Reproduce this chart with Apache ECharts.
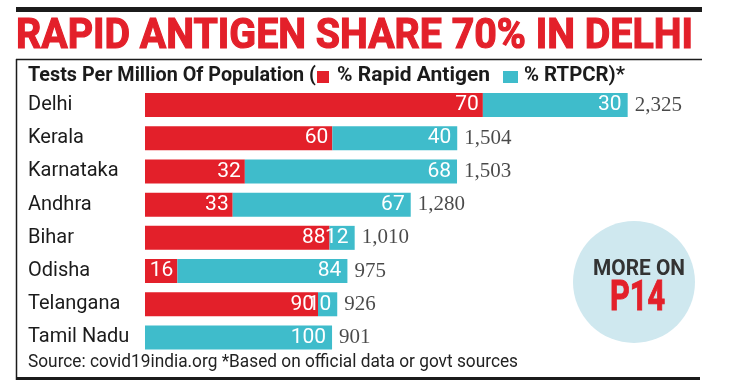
<!DOCTYPE html>
<html>
<head>
<meta charset="utf-8">
<script src="https://cdn.jsdelivr.net/npm/echarts@6/dist/echarts.min.js"></script>
<style>
html,body{margin:0;padding:0;background:#fff;}
#main{width:736px;height:390px;}
</style>
</head>
<body>
<div id="main"></div>
<script>
// ---- data ----
const states = ['Delhi', 'Kerala', 'Karnataka', 'Andhra', 'Bihar', 'Odisha', 'Telangana', 'Tamil Nadu'];
const testsPerMillion = [2325, 1504, 1503, 1280, 1010, 975, 926, 901];
const rapidAntigenPct = [70, 60, 32, 33, 88, 16, 90, 0];
const rtpcrPct = [30, 40, 68, 67, 12, 84, 10, 100];

const titleText = 'RAPID ANTIGEN SHARE 70% IN DELHI';
const subtitleText = 'Tests Per Million Of Population (';
const legendRapid = '% Rapid Antigen';
const legendRtpcr = '% RTPCR)*';
const sourceText = 'Source: covid19india.org *Based on official data or govt sources';

// ---- style ----
const RED = '#e3202a';
const CYAN = '#3fbccb';
const INK = '#1b1b1b';
const SANS = "Roboto, 'Liberation Sans', sans-serif";

const cv = document.createElement('canvas').getContext('2d');
function measure(text, font) { cv.font = font; return cv.measureText(text).width; }
function fitText(text, x, y, size, weight, family, fill, width, extra) {
  const w = measure(text, weight + ' ' + size + 'px ' + family);
  const style = Object.assign({ text: text, fontSize: size, fontWeight: weight, fontFamily: family, fill: fill,
             align: 'left', verticalAlign: 'middle' }, extra || {});
  return { type: 'text', x: x, y: y, scaleX: width / w, silent: true, style: style };
}

const chart = echarts.init(document.getElementById('main'), null, { renderer: 'canvas' });

const graphics = [
  { type: 'rect', shape: { x: 16, y: 7, width: 686, height: 5 }, style: { fill: INK }, silent: true },
  fitText(titleText, 16, 37, 43, 'bold', 'Roboto', RED, 677, { stroke: RED, lineWidth: 1.2 }),
  { type: 'line', shape: { x1: 16, y1: 59.5, x2: 702, y2: 59.5 }, style: { stroke: INK, lineWidth: 1.5 }, silent: true },
  { type: 'line', shape: { x1: 16.5, y1: 59, x2: 16.5, y2: 380 }, style: { stroke: INK, lineWidth: 1.5 }, silent: true },
  { type: 'rect', shape: { x: 16, y: 377, width: 684, height: 3 }, style: { fill: INK }, silent: true },
  fitText(subtitleText, 28, 76, 20, 'bold', 'Roboto', INK, 288),
  { type: 'rect', shape: { x: 317, y: 71, width: 12, height: 12 }, style: { fill: RED }, silent: true },
  fitText(legendRapid, 337, 76, 20, 'bold', 'Roboto', INK, 153),
  { type: 'rect', shape: { x: 503, y: 71, width: 15, height: 12 }, style: { fill: CYAN }, silent: true },
  fitText(legendRtpcr, 524, 76, 20, 'bold', 'Roboto', INK, 101),
  fitText(sourceText, 28, 362, 19, 'normal', 'Roboto', '#222', 490),
  { type: 'circle', shape: { cx: 634, cy: 282, r: 61 }, style: { fill: '#cfe8ef' }, silent: true },
  fitText('MORE ON', 593, 269, 22, 'bold', 'Roboto', '#333', 92),
  fitText('P14', 610, 299, 42, 'bold', 'Roboto', RED, 55, { stroke: RED, lineWidth: 1 })
];

const option = {
  animation: false,
  backgroundColor: '#fff',
  grid: { left: 145, right: 72, top: 88.4, bottom: 35.9, containLabel: false },
  xAxis: { type: 'value', min: 0, max: 2500, show: false, splitLine: { show: false } },
  yAxis: {
    type: 'category', data: states, inverse: true,
    axisLine: { show: false }, axisTick: { show: false },
    axisLabel: { align: 'left', margin: 117, fontSize: 20, fontFamily: SANS, color: INK, padding: [0, 0, 4, 0] }
  },
  series: [
    {
      name: legendRapid, type: 'bar', stack: 'total', barWidth: 24,
      data: testsPerMillion.map((t, i) => t * rapidAntigenPct[i] / 100),
      itemStyle: { color: RED },
      label: { show: true, position: 'insideRight', distance: 4, color: '#fff', fontSize: 21, fontFamily: SANS,
               formatter: p => rapidAntigenPct[p.dataIndex] ? String(rapidAntigenPct[p.dataIndex]) : '' }
    },
    {
      name: '% RTPCR', type: 'bar', stack: 'total', barWidth: 24,
      data: testsPerMillion.map((t, i) => t * rtpcrPct[i] / 100),
      itemStyle: { color: CYAN },
      label: { show: true, position: 'insideRight', distance: 6, color: '#fff', fontSize: 21, fontFamily: SANS,
               formatter: p => rtpcrPct[p.dataIndex] ? String(rtpcrPct[p.dataIndex]) : '' }
    },
    {
      name: 'total', type: 'scatter', symbolSize: 0, silent: true,
      data: testsPerMillion.map((t, i) => [t, i]),
      label: { show: true, position: 'right', distance: 7, color: INK, fontSize: 21, fontFamily: "'Liberation Serif', 'DejaVu Serif', serif",
               formatter: p => testsPerMillion[p.dataIndex].toLocaleString('en-US') }
    }
  ],
  graphic: graphics
};
chart.setOption(option);
</script>
</body>
</html>
